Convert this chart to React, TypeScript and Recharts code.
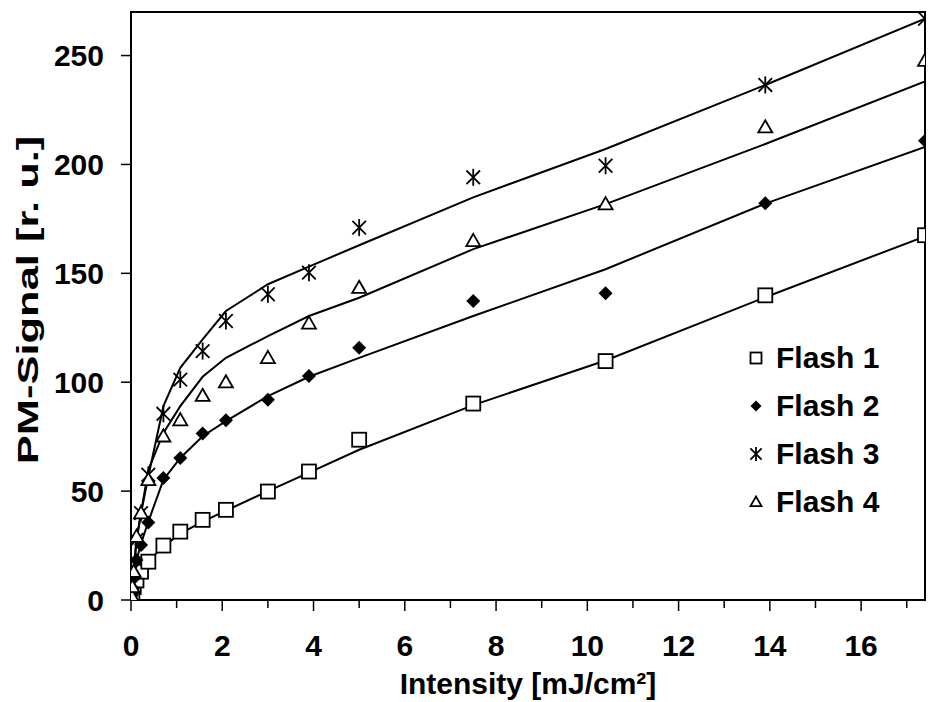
import {
  ComposedChart, Line, Scatter, XAxis, YAxis, ReferenceArea, Legend,
} from 'recharts'

// intensity in mJ/cm², shared by all four flashes
const INTENSITY = [0.01, 0.03, 0.06, 0.12, 0.22, 0.38, 0.71, 1.08, 1.57, 2.08, 3.0, 3.9, 5.0, 7.5, 10.4, 13.9, 17.4]

// measured PM signal
const FLASH_1 = [1, 3, 6, 9, 13, 17.6, 25, 31.4, 36.8, 41.4, 49.8, 59, 73.6, 90.2, 109.7, 139.9, 167.5]
const FLASH_2 = [2, 5, 10, 18.4, 25.3, 35.6, 56, 65.2, 76.4, 82.5, 92, 102.8, 115.8, 137.3, 140.8, 182.2, 210.9]
const FLASH_3 = [3, 8, 14, 27.6, 39.9, 57.5, 85.5, 101.2, 114.3, 128.1, 140.4, 150.3, 171, 194.1, 199.4, 236.5, 266.9]
const FLASH_4 = [2, 6, 13, 29.1, 39.9, 55.2, 75.2, 82.6, 93.8, 100, 111.2, 127, 143.4, 164.9, 181.8, 217.1, 247.7]

// fitted curves
const FIT_1 = [1, 3, 6, 9, 13, 18, 24.5, 30.5, 36, 41, 50, 58.5, 69, 89.5, 110, 139, 167]
const FIT_2 = [2, 5, 10, 18, 26, 36, 55.2, 65.2, 75.2, 82.1, 93.6, 102.5, 111.2, 130.4, 151.9, 182, 208]
const FIT_3 = [3, 8, 14, 27, 40, 56.7, 89, 106.6, 119.7, 132.7, 145, 153.1, 162.9, 184.9, 207.1, 236.5, 266.9]
const FIT_4 = [2, 6, 13, 28, 40, 59.8, 76.7, 89, 102.5, 111.2, 121.2, 130.4, 138.8, 161.1, 181.8, 209.4, 238.1]

const SERIES_NAMES = ['Flash 1', 'Flash 2', 'Flash 3', 'Flash 4']
const X_TICKS = [0, 1, 2, 3, 4, 5, 6, 7, 8, 9, 10, 11, 12, 13, 14, 15, 16, 17]
const Y_TICKS = [0, 50, 100, 150, 200, 250]

const FONT = '"Liberation Sans", Arial, sans-serif'

const toPoints = (ys: number[]) => INTENSITY.map((x, i) => ({ x, y: ys[i] }))

type MarkerKind = 'square' | 'diamond' | 'star' | 'triangle'
const MARKERS: MarkerKind[] = ['square', 'diamond', 'star', 'triangle']

function Marker({ kind, cx, cy, s }: { kind: MarkerKind; cx: number; cy: number; s: number }) {
  const h = s / 2
  if (kind === 'square') {
    return <rect x={cx - h} y={cy - h} width={s} height={s} fill="#fff" stroke="#000" strokeWidth={1.8} />
  }
  if (kind === 'diamond') {
    return <polygon points={`${cx},${cy - h} ${cx + h},${cy} ${cx},${cy + h} ${cx - h},${cy}`} fill="#000" />
  }
  if (kind === 'triangle') {
    return (
      <polygon
        points={`${cx},${cy - h} ${cx + h},${cy + h * 0.75} ${cx - h},${cy + h * 0.75}`}
        fill="#fff" stroke="#000" strokeWidth={1.8}
      />
    )
  }
  const d = h * 0.8
  return (
    <g stroke="#000" strokeWidth={1.8}>
      <line x1={cx} y1={cy - h} x2={cx} y2={cy + h} />
      <line x1={cx - d} y1={cy - d} x2={cx + d} y2={cy + d} />
      <line x1={cx - d} y1={cy + d} x2={cx + d} y2={cy - d} />
    </g>
  )
}

const markerShape = (kind: MarkerKind, s: number) => (props: any) =>
  <Marker kind={kind} cx={props.cx} cy={props.cy} s={s} />

function XTick({ x, y, payload }: any) {
  const v = payload.value
  const major = v % 2 === 0
  return (
    <g>
      <line x1={x} x2={x} y1={y} y2={y + (major ? 11 : 8)} stroke="#000" strokeWidth={1.5} />
      {major && (
        <text x={x} y={y + 45} textAnchor="middle" dominantBaseline="central"
          fontFamily={FONT} fontWeight="bold" fontSize={30} fill="#000">
          {v}
        </text>
      )}
    </g>
  )
}

function YTick({ x, y, payload }: any) {
  return (
    <g>
      <line x1={x - 10} x2={x} y1={y} y2={y} stroke="#000" strokeWidth={1.5} />
      <text x={x - 27} y={y} textAnchor="end" dominantBaseline="central"
        fontFamily={FONT} fontWeight="bold" fontSize={30} fill="#000">
        {payload.value}
      </text>
    </g>
  )
}

function YTitle() {
  return (
    <text transform="translate(28, 300) rotate(-90) scale(1.45, 1)" textAnchor="middle"
      dominantBaseline="central" fontFamily={FONT} fontWeight="bold" fontSize={30} fill="#000">
      PM-Signal [r. u.]
    </text>
  )
}

function LegendBox() {
  return (
    <div style={{ fontFamily: FONT, fontWeight: 'bold', fontSize: 30, color: '#000' }}>
      {SERIES_NAMES.map((name, i) => (
        <div key={name} style={{ display: 'flex', alignItems: 'center', height: 48 }}>
          <svg width={28} height={20} style={{ marginRight: 6 }}>
            <Marker kind={MARKERS[i]} cx={14} cy={10} s={i === 2 ? 14 : 11} />
          </svg>
          <span>{name}</span>
        </div>
      ))}
    </div>
  )
}

export default function App() {
  const fits = [FIT_1, FIT_2, FIT_3, FIT_4]
  const measured = [FLASH_1, FLASH_2, FLASH_3, FLASH_4]

  return (
    <div style={{ position: 'absolute', left: 0, top: 0, width: 929, height: 702, background: '#fff' }}>
      <ComposedChart width={929} height={702} margin={{ top: 12, right: 4, bottom: 0, left: 0 }}>
        <XAxis
          type="number" dataKey="x" domain={[0, 17.4]} ticks={X_TICKS} interval={0}
          allowDataOverflow height={102} tickSize={0} tickMargin={0} tick={<XTick />}
          axisLine={{ stroke: '#000', strokeWidth: 2 }}
          label={{ value: 'Intensity [mJ/cm²]', position: 'insideBottom', offset: 8,
            style: { fontFamily: FONT, fontWeight: 'bold', fontSize: 30, fill: '#000' } }}
        />
        <YAxis
          type="number" dataKey="y" domain={[0, 270]} ticks={Y_TICKS} interval={0}
          allowDataOverflow width={131} tickSize={0} tickMargin={0} tick={<YTick />}
          axisLine={{ stroke: '#000', strokeWidth: 2 }}
          label={() => <YTitle />}
        />
        <ReferenceArea x1={0} x2={17.4} y1={0} y2={270} fill="none" stroke="#000" strokeWidth={2} />
        {fits.map((f, i) => (
          <Line key={`fit${i}`} data={toPoints(f)} dataKey="y" type="linear" stroke="#000"
            strokeWidth={2} dot={false} activeDot={false} isAnimationActive={false} legendType="none" />
        ))}
        {measured.map((m, i) => (
          <Scatter key={`pts${i}`} name={SERIES_NAMES[i]} data={toPoints(m)} dataKey="y"
            shape={markerShape(MARKERS[i], i === 2 ? 17 : 14)} isAnimationActive={false} />
        ))}
        <Legend layout="vertical" align="center" verticalAlign="middle"
          wrapperStyle={{ left: 742, top: 334, width: 180 }} content={() => <LegendBox />} />
      </ComposedChart>
    </div>
  )
}
